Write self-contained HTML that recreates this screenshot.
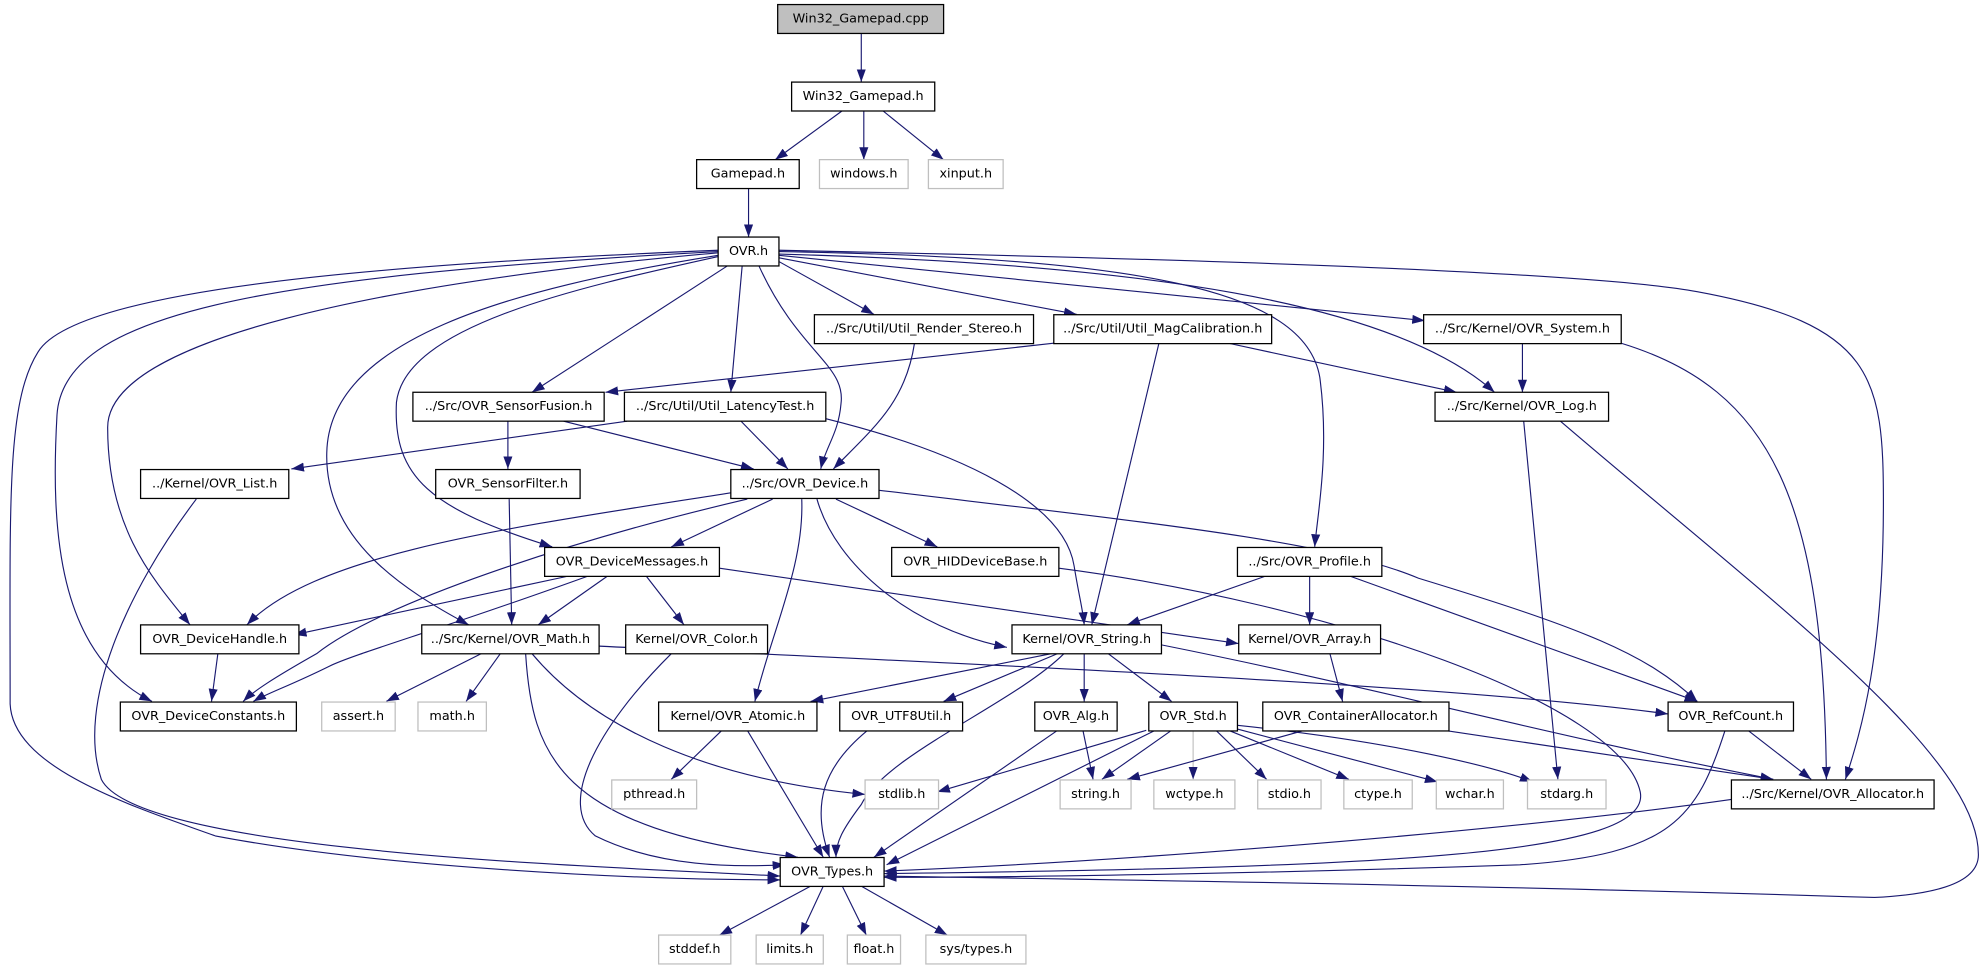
<!DOCTYPE html>
<html><head><meta charset="utf-8"><style>
html,body{margin:0;padding:0;background:#fff;width:1986px;height:968px;overflow:hidden}
svg{display:block}
text{font-family:"DejaVu Sans","Liberation Sans",sans-serif;font-size:10.1px;text-anchor:middle;dominant-baseline:central;fill:#000}
.b{fill:#fff;stroke:#000;stroke-width:1}
.g{fill:#fff;stroke:#bfbfbf;stroke-width:1}
.e{fill:none;stroke:#191970;stroke-width:0.9;marker-end:url(#a)}
</style></head><body>
<svg width="1986" height="968" viewBox="0 0 1568 764" preserveAspectRatio="none">
<defs><marker id="a" markerUnits="userSpaceOnUse" markerWidth="10" markerHeight="8" refX="10" refY="3.6" orient="auto"><path d="M0,0 L10,3.6 L0,7.2 z" fill="#191970"/></marker></defs>
<g transform="translate(0,15) scale(1,0.9919) translate(0,-15)">
<g>
<path class="e" d="M680,26.5 L680,65"/>
<path class="e" d="M665,88 L612,127"/>
<path class="e" d="M682,88 L682,127"/>
<path class="e" d="M697,88 L745,127"/>
<path class="e" d="M591,150 L591,188.5"/>
<path class="e" d="M615,208 L690,250"/>
<path class="e" d="M615,205 L850,250"/>
<path class="e" d="M615,203 L1125,255"/>
<path class="e" d="M575,211 L420,312"/>
<path class="e" d="M586,211 L577,312"/>
<path class="e" d="M599,211 C630,280 668,290 664,321 C662,345 652,355 648,373"/>
<path class="e" d="M615,202 C900,210 1100,240 1180,312"/>
<path class="e" d="M615,200 C900,205 1030,230 1042,300 C1050,360 1040,410 1038,435"/>
<path class="e" d="M615,199 C900,205 1250,215 1340,232 C1480,258 1487,300 1487,400 C1487,520 1470,580 1457,620"/>
<path class="e" d="M567,199 C300,210 60,230 30,280 C5,320 8,400 8,560 C10,610 100,640 170,665 C300,690 500,700 616,700"/>
<path class="e" d="M567,200 C200,220 50,250 45,330 C40,420 45,520 120,558"/>
<path class="e" d="M567,201 C300,225 85,270 85,340 C85,420 120,460 150,497"/>
<path class="e" d="M567,203 C400,230 260,270 258,360 C256,430 320,470 370,497"/>
<path class="e" d="M567,204 C450,230 320,260 313,320 C310,380 340,405 436,435"/>
<path class="e" d="M722,273 C715,320 690,340 658,373"/>
<path class="e" d="M832,273 L478,312"/>
<path class="e" d="M915,273 L862,497"/>
<path class="e" d="M970,273 L1150,312"/>
<path class="e" d="M1202,273 L1202,312"/>
<path class="e" d="M1280,273 C1400,310 1440,400 1442,620"/>
<path class="e" d="M401,335 L401,373"/>
<path class="e" d="M445,335 L595,373"/>
<path class="e" d="M495,335 L230,373"/>
<path class="e" d="M585,335 L622,373"/>
<path class="e" d="M652,333 C760,360 840,400 848,450 C852,475 855,485 856,497"/>
<path class="e" d="M1203,335 L1230,620"/>
<path class="e" d="M1232,335 C1400,480 1562,600 1562,680 C1562,705 1520,712 1480,714 C1200,705 900,700 698,697"/>
<path class="e" d="M155,397 C100,470 60,560 80,620 C110,680 500,690 616,697"/>
<path class="e" d="M402,397 L404,497"/>
<path class="e" d="M577,392 C400,420 250,440 195,497"/>
<path class="e" d="M590,397 C450,430 300,480 250,520 C215,540 200,550 192,558"/>
<path class="e" d="M610,397 L530,435"/>
<path class="e" d="M660,397 L740,435"/>
<path class="e" d="M633,397 C635,450 610,500 596,558"/>
<path class="e" d="M645,397 C660,450 720,500 795,515"/>
<path class="e" d="M694,390 C900,415 1050,430 1120,460 C1250,500 1300,520 1340,558"/>
<path class="e" d="M450,458 L232,505"/>
<path class="e" d="M465,458 C350,500 280,520 260,530 C230,545 210,552 200,558"/>
<path class="e" d="M480,458 L425,497"/>
<path class="e" d="M510,458 L540,497"/>
<path class="e" d="M568,452 L978,512"/>
<path class="e" d="M836,452 C1050,480 1280,560 1295,630 C1305,680 1100,690 698,695"/>
<path class="e" d="M1000,458 L890,497"/>
<path class="e" d="M1034,458 L1034,497"/>
<path class="e" d="M1065,458 L1340,558"/>
<path class="e" d="M172,520 L167,558"/>
<path class="e" d="M380,520 L305,558"/>
<path class="e" d="M395,520 L368,558"/>
<path class="e" d="M473,514 C800,530 1150,545 1317,568"/>
<path class="e" d="M415,520 C420,600 440,660 630,682"/>
<path class="e" d="M420,520 C470,580 560,620 683,632"/>
<path class="e" d="M530,520 C470,580 440,640 470,665 C520,690 580,690 620,688"/>
<path class="e" d="M830,520 L640,558"/>
<path class="e" d="M835,520 L745,558"/>
<path class="e" d="M856,520 L856,558"/>
<path class="e" d="M875,520 L925,558"/>
<path class="e" d="M917,513 C1100,550 1200,580 1400,620"/>
<path class="e" d="M840,520 C800,560 700,600 680,640 C665,660 660,670 660,682"/>
<path class="e" d="M1050,520 L1060,558"/>
<path class="e" d="M570,581 L530,620"/>
<path class="e" d="M590,581 L650,682"/>
<path class="e" d="M685,581 C650,610 640,640 655,682"/>
<path class="e" d="M855,581 L863,620"/>
<path class="e" d="M835,581 L690,682"/>
<path class="e" d="M905,581 L740,630"/>
<path class="e" d="M925,581 L870,620"/>
<path class="e" d="M942,581 L942,620" style="stroke:#bfbfbf"/>
<path class="e" d="M960,581 L1000,620"/>
<path class="e" d="M970,581 L1065,620"/>
<path class="e" d="M977,580 L1135,622"/>
<path class="e" d="M977,577 C1100,590 1180,610 1210,622"/>
<path class="e" d="M912,581 L700,688"/>
<path class="e" d="M1030,581 L890,620"/>
<path class="e" d="M1140,581 L1400,620"/>
<path class="e" d="M1380,581 L1430,620"/>
<path class="e" d="M1362,581 C1340,650 1320,680 1200,688 C1000,695 800,698 698,698"/>
<path class="e" d="M1367,636 C1200,660 900,685 698,693"/>
<path class="e" d="M640,705 L568,744"/>
<path class="e" d="M650,705 L632,744"/>
<path class="e" d="M665,705 L684,744"/>
<path class="e" d="M680,705 L748,744"/>
</g>
<g>
<rect x="614" y="3.5" width="131" height="23" fill="#bfbfbf" stroke="#000"/><text x="679.5" y="15">Win32_Gamepad.cpp</text>
<rect class="b" x="625" y="65.2" width="113" height="23"/><text x="681.5" y="76.7">Win32_Gamepad.h</text>
<rect class="b" x="550" y="126.9" width="81" height="23"/><text x="590.5" y="138.4">Gamepad.h</text>
<rect class="g" x="647" y="126.9" width="70" height="23"/><text x="682" y="138.4">windows.h</text>
<rect class="g" x="733" y="126.9" width="59" height="23"/><text x="762.5" y="138.4">xinput.h</text>
<rect class="b" x="567" y="188.5" width="48" height="23"/><text x="591" y="200">OVR.h</text>
<rect class="b" x="643" y="250.3" width="173" height="23"/><text x="729.5" y="261.8">../Src/Util/Util_Render_Stereo.h</text>
<rect class="b" x="832" y="250.3" width="172" height="23"/><text x="918" y="261.8">../Src/Util/Util_MagCalibration.h</text>
<rect class="b" x="1124" y="250.3" width="156" height="23"/><text x="1202" y="261.8">../Src/Kernel/OVR_System.h</text>
<rect class="b" x="326" y="312" width="151" height="23"/><text x="401.5" y="323.5">../Src/OVR_SensorFusion.h</text>
<rect class="b" x="493" y="312" width="159" height="23"/><text x="572.5" y="323.5">../Src/Util/Util_LatencyTest.h</text>
<rect class="b" x="1133" y="312" width="137" height="23"/><text x="1201.5" y="323.5">../Src/Kernel/OVR_Log.h</text>
<rect class="b" x="111" y="373.5" width="117" height="23"/><text x="169.5" y="385">../Kernel/OVR_List.h</text>
<rect class="b" x="344" y="373.5" width="114" height="23"/><text x="401" y="385">OVR_SensorFilter.h</text>
<rect class="b" x="577" y="373.5" width="117" height="23"/><text x="635.5" y="385">../Src/OVR_Device.h</text>
<rect class="b" x="430" y="435.5" width="138" height="23"/><text x="499" y="447">OVR_DeviceMessages.h</text>
<rect class="b" x="704" y="435.5" width="132" height="23"/><text x="770" y="447">OVR_HIDDeviceBase.h</text>
<rect class="b" x="977" y="435.5" width="114" height="23"/><text x="1034" y="447">../Src/OVR_Profile.h</text>
<rect class="b" x="111" y="497.1" width="125" height="23"/><text x="173.5" y="508.6">OVR_DeviceHandle.h</text>
<rect class="b" x="333" y="497.1" width="140" height="23"/><text x="403" y="508.6">../Src/Kernel/OVR_Math.h</text>
<rect class="b" x="494" y="497.1" width="112" height="23"/><text x="550" y="508.6">Kernel/OVR_Color.h</text>
<rect class="b" x="799" y="497.1" width="118" height="23"/><text x="858" y="508.6">Kernel/OVR_String.h</text>
<rect class="b" x="978" y="497.1" width="112" height="23"/><text x="1034" y="508.6">Kernel/OVR_Array.h</text>
<rect class="b" x="95" y="558.5" width="139" height="23"/><text x="164.5" y="570">OVR_DeviceConstants.h</text>
<rect class="g" x="254" y="558.5" width="58" height="23"/><text x="283" y="570">assert.h</text>
<rect class="g" x="330" y="558.5" width="54" height="23"/><text x="357" y="570">math.h</text>
<rect class="b" x="520" y="558.5" width="125" height="23"/><text x="582.5" y="570">Kernel/OVR_Atomic.h</text>
<rect class="b" x="663" y="558.5" width="97" height="23"/><text x="711.5" y="570">OVR_UTF8Util.h</text>
<rect class="b" x="817" y="558.5" width="65" height="23"/><text x="849.5" y="570">OVR_Alg.h</text>
<rect class="b" x="907" y="558.5" width="70" height="23"/><text x="942" y="570">OVR_Std.h</text>
<rect class="b" x="997" y="558.5" width="147" height="23"/><text x="1070.5" y="570">OVR_ContainerAllocator.h</text>
<rect class="b" x="1317" y="558.5" width="99" height="23"/><text x="1366.5" y="570">OVR_RefCount.h</text>
<rect class="g" x="483" y="620.5" width="67" height="23"/><text x="516.5" y="632">pthread.h</text>
<rect class="g" x="683" y="620.5" width="58" height="23"/><text x="712" y="632">stdlib.h</text>
<rect class="g" x="837" y="620.5" width="56" height="23"/><text x="865" y="632">string.h</text>
<rect class="g" x="911" y="620.5" width="64" height="23"/><text x="943" y="632">wctype.h</text>
<rect class="g" x="993" y="620.5" width="50" height="23"/><text x="1018" y="632">stdio.h</text>
<rect class="g" x="1061" y="620.5" width="54" height="23"/><text x="1088" y="632">ctype.h</text>
<rect class="g" x="1134" y="620.5" width="53" height="23"/><text x="1160.5" y="632">wchar.h</text>
<rect class="g" x="1206" y="620.5" width="62" height="23"/><text x="1237" y="632">stdarg.h</text>
<rect class="b" x="1367" y="620.5" width="160" height="23"/><text x="1447" y="632">../Src/Kernel/OVR_Allocator.h</text>
<rect class="b" x="616" y="682.2" width="82" height="23"/><text x="657" y="693.7">OVR_Types.h</text>
<rect class="g" x="520" y="743.9" width="57" height="23"/><text x="548.5" y="755.4">stddef.h</text>
<rect class="g" x="597" y="743.9" width="53" height="23"/><text x="623.5" y="755.4">limits.h</text>
<rect class="g" x="669" y="743.9" width="42" height="23"/><text x="690" y="755.4">float.h</text>
<rect class="g" x="731" y="743.9" width="79" height="23"/><text x="770.5" y="755.4">sys/types.h</text>
</g>
</g>
</svg>
</body></html>
